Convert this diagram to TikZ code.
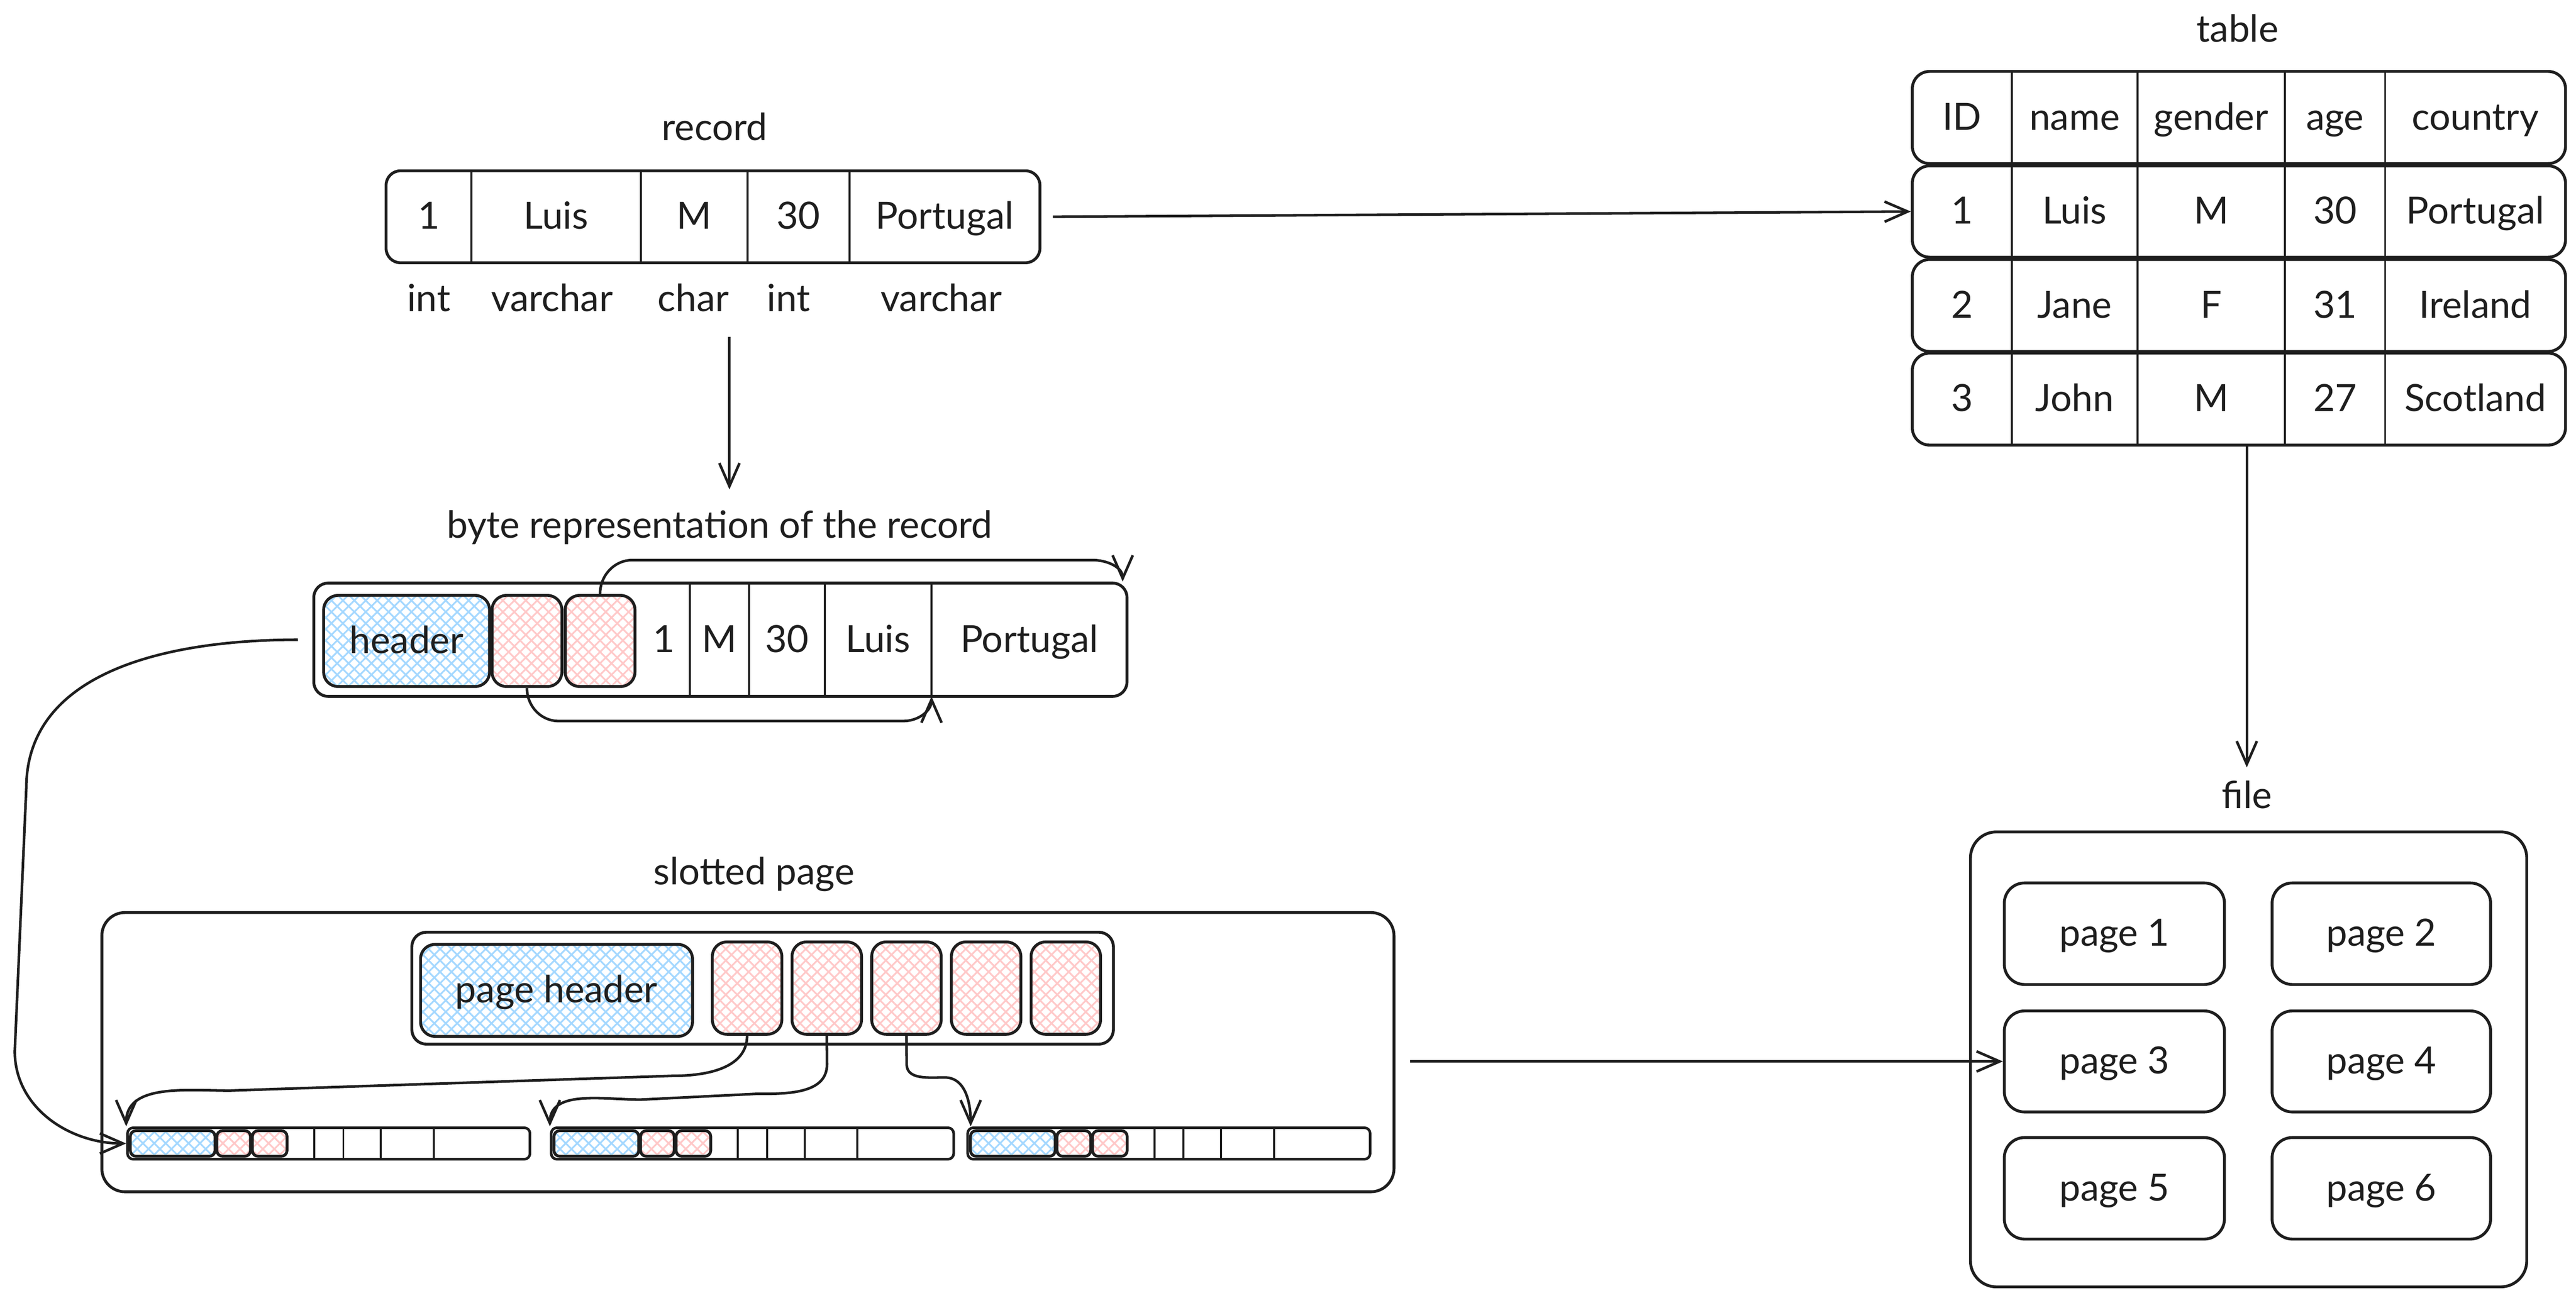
\documentclass[tikz,border=0pt]{standalone}
\usepackage{fontspec}
\setmainfont{Lato}
\usetikzlibrary{fit,arrows.meta,patterns.meta}
\definecolor{ink}{HTML}{1E1E1E}
\definecolor{hblue}{HTML}{A5D8FF}
\definecolor{hred}{HTML}{FFC9C9}
\begin{document}
\begin{tikzpicture}[x=0.02cm, y=0.02cm,
        font=\fontsize{13}{15}\selectfont,
        box/.style = {draw=ink, line width=1pt, rounded corners=5pt, inner sep=0pt},
        lbl/.style = {text=ink, text height=2.1ex, text depth=.4ex},
        sep/.style = {draw=ink, line width=0.7pt},
        hdr/.style = {box, pattern={Hatch[angle=45,distance=2.8pt,line width=0.6pt]}, pattern color=hblue},
        slot/.style = {box, pattern={Hatch[angle=45,distance=2.8pt,line width=0.6pt]}, pattern color=hred},
        pg/.style = {box, rounded corners=7pt},
        arrow/.style = {draw=ink, line width=0.9pt, -{Straight Barb[length=8pt,width=7pt]}}]
                \useasboundingbox (0,0) rectangle (1568,790);

                % record
                \node[lbl] (reclbl) at (435,712) {record};
                \node[box, fit={(235,630) (633,686)}] (rec) {};
                \foreach \x in {287,390,455,517}
                    \draw[sep] (\x,630) -- (\x,686);
                \node[lbl] (r1) at (261,658) {1};
                \node[lbl] (r2) at (338.5,658) {Luis};
                \node[lbl] (r3) at (422.5,658) {M};
                \node[lbl] (r4) at (486,658) {30};
                \node[lbl] (r5) at (575,658) {Portugal};
                \node[lbl] (ty1) at (261,608) {int};
                \node[lbl] (ty2) at (336,608) {varchar};
                \node[lbl] (ty3) at (422,608) {char};
                \node[lbl] (ty4) at (480,608) {int};
                \node[lbl] (ty5) at (573,608) {varchar};
                \coordinate (d1) at (444,585);
                \coordinate (d2) at (444,492);
                \draw[arrow] (d1) -- (d2);

                % byte representation
                \node[lbl] (bytelbl) at (438,470) {byte representation of the record};
                \node[box, fit={(191,366) (686,435)}] (byte) {};
                \node[hdr, fit={(197,372) (298,427.5)}] (bh) {};
                \node[lbl] (bht) at (bh) {header};
                \node[slot, fit={(299.5,372) (342,427.5)}] (bp1) {};
                \node[slot, fit={(344,372) (386.5,427.5)}] (bp2) {};
                \foreach \x in {420,456,502,567}
                    \draw[sep] (\x,366) -- (\x,435);
                \node[lbl] (bv1) at (404,400.5) {1};
                \node[lbl] (bv2) at (438,400.5) {M};
                \node[lbl] (bv3) at (479,400.5) {30};
                \node[lbl] (bv4) at (534.5,400.5) {Luis};
                \node[lbl] (bv5) at (626.5,400.5) {Portugal};
                \coordinate (pstart) at (567,366);
                \draw[arrow] (bp2.north) to[out=90,in=180] (385,449)
                    -- (665,449) to[out=0,in=90] ([xshift=-2pt]byte.north east);
                \draw[arrow] (bp1.south) to[out=-90,in=180] (340,351)
                    -- (550,351) to[out=0,in=-90] (pstart);

                % slotted page
                \node[lbl] (slotlbl) at (459,259) {slotted page};
                \node[box, rounded corners=8pt, fit={(62,64.4) (848.5,234.4)}] (page) {};
                \node[box, fit={(250.7,154.3) (677.7,222.4)}] (pdir) {};
                \node[hdr, fit={(256,159) (421.5,215)}] (ph) {};
                \node[lbl] (pht) at (ph) {page header};
                \foreach \x [count=\i] in {433.6,482.1,530.6,579.1,627.6}
                    \node[slot, fit={(\x,160.3) (\x+42.3,216.5)}] (sl\i) {};
                \foreach \x [count=\i] in {77.6,335.5,589} {
                    \node[box, rounded corners=2pt, line width=0.9pt,
                        fit={(\x,84.2) (\x+245,103.4)}] (st\i) {};
                    \draw[hdr, rounded corners=2pt] (\x+1.7,86) rectangle (\x+53.3,101.6);
                    \draw[slot, rounded corners=2pt] (\x+54.4,86) rectangle (\x+74.9,101.6);
                    \draw[slot, rounded corners=2pt] (\x+76,86) rectangle (\x+97.1,101.6);
                    \foreach \d in {113.7,131.4,154.2,186.4}
                        \draw[sep] (\x+\d,84.2) -- (\x+\d,103.4);
                }
                \draw[arrow] (sl1.south) to[out=-90,in=0] (410,135)
                    -- (140,126) to[out=180,in=90] (st1.north west);
                \draw[arrow] (sl2.south) -- (503.4,142) to[out=-90,in=0] (460,124)
                    -- (390,120.5) to[out=180,in=90] (st2.north west);
                \draw[arrow] (sl3.south) -- (551.9,142) to[out=-90,in=180] (575,134)
                    to[out=0,in=90] ([xshift=1.5pt]st3.north west);
                \draw[arrow] ([xshift=-5pt]byte.west) to[out=180,in=90] (16,310)
                    -- (9,150) to[out=-90,in=180] (st1.west);

                % table
                \node[lbl] (tbllbl) at (1362,772) {table};
                \node[box, rounded corners=6pt, fit={(1164,690.4) (1561.6,746.5)}] (rowh) {};
                \node[box, rounded corners=6pt, fit={(1164,633.4) (1561.6,689)}] (row1) {};
                \node[box, rounded corners=6pt, fit={(1164,576) (1561.6,632)}] (row2) {};
                \node[box, rounded corners=6pt, fit={(1164,519) (1561.6,575)}] (row3) {};
                \foreach \x in {1224.6,1301,1390.7,1451.8}
                    \draw[sep] (\x,519) -- (\x,746.5);
                \foreach \x/\t [count=\i] in {1194.3/ID,1262.8/name,1345.9/gender,1421.3/age,1506.7/country}
                    \node[lbl] (h\i) at (\x,718.5) {\t};
                \foreach \x/\t [count=\i] in {1194.3/1,1262.8/Luis,1345.9/M,1421.3/30,1506.7/Portugal}
                    \node[lbl] (a\i) at (\x,661.2) {\t};
                \foreach \x/\t [count=\i] in {1194.3/2,1262.8/Jane,1345.9/F,1421.3/31,1506.7/Ireland}
                    \node[lbl] (b\i) at (\x,604) {\t};
                \foreach \x/\t [count=\i] in {1194.3/3,1262.8/John,1345.9/M,1421.3/27,1506.7/Scotland}
                    \node[lbl] (c\i) at (\x,547) {\t};
                \draw[arrow] ([xshift=4pt]rec.east) -- (row1.west);

                % file
                \node[lbl] (filelbl) at (1367.6,305.4) {file};
                \node[box, rounded corners=9pt, fit={(1199.4,6.5) (1538,283.5)}] (file) {};
                \node[pg, fit={(1220,190.6) (1354,252.4)}] (pg1) {};
                \node[pg, fit={(1383,190.6) (1516,252.4)}] (pg2) {};
                \node[pg, fit={(1220,113) (1354,174.5)}] (pg3) {};
                \node[pg, fit={(1383,113) (1516,174.5)}] (pg4) {};
                \node[pg, fit={(1220,35.6) (1354,97.4)}] (pg5) {};
                \node[pg, fit={(1383,35.6) (1516,97.4)}] (pg6) {};
                \foreach \i in {1,...,6}
                    \node[lbl] (pgt\i) at (pg\i) {page \i};
                \draw[arrow] (row3.south -| filelbl) -- (filelbl.north);
                \draw[arrow, shorten <=5pt] (page.east |- pg3.west) -- (pg3.west);
\end{tikzpicture}
\end{document}
